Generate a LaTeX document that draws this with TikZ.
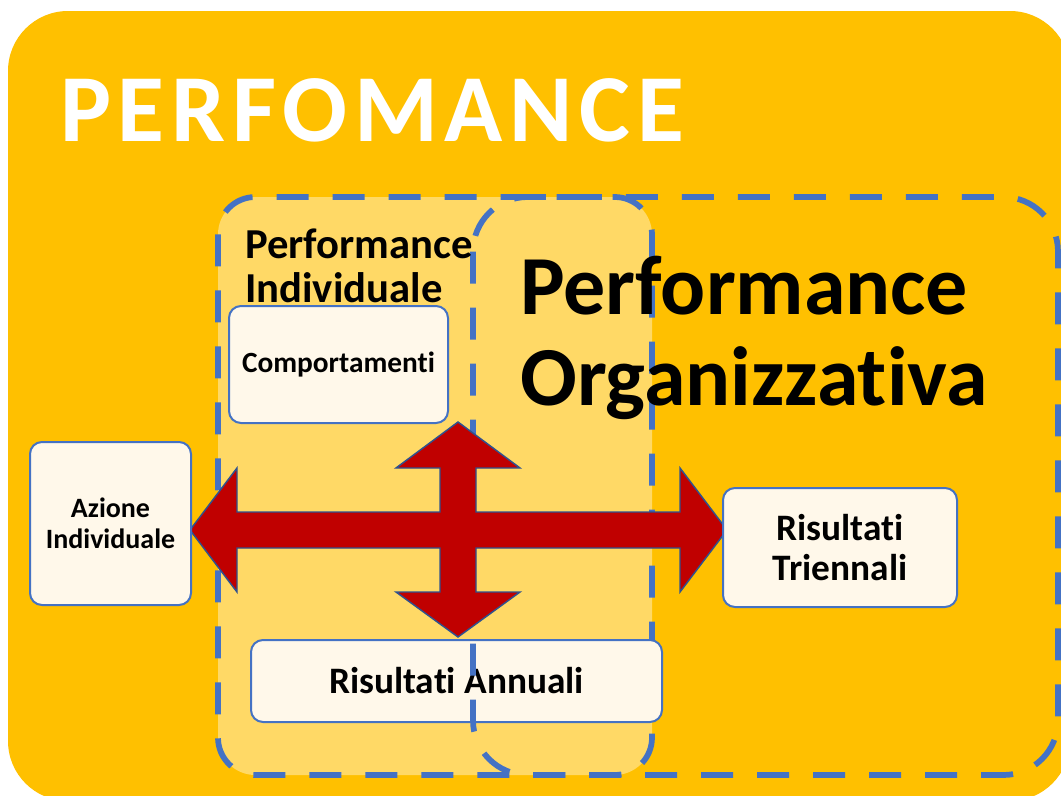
\documentclass[tikz,border=0pt]{standalone}
\usepackage{fontspec}
\setmainfont{Carlito}[Ligatures=NoCommon]
\newfontfamily\titlefont[LetterSpace=7,Ligatures=NoCommon]{Carlito}
\usetikzlibrary{positioning}

\definecolor{orangebg}{HTML}{FFC000}
\definecolor{lightyel}{HTML}{FFD966}
\definecolor{cream}{HTML}{FFF8EA}
\definecolor{dashblue}{HTML}{4472C4}
\definecolor{arrowred}{HTML}{C00000}
\definecolor{arrowedge}{HTML}{2F528F}

\begin{document}
\begin{tikzpicture}[x=0.75pt,y=-0.75pt,
	box/.style={rectangle,rounded corners=9pt,draw=dashblue,line width=1.5pt,fill=cream,align=center,inner sep=0pt},
	zone/.style={rounded corners=#1,draw=dashblue,line width=4.3pt,dash pattern=on 24pt off 18pt},
	heading/.style={inner sep=0pt,anchor=base west,align=left}]
	
	\useasboundingbox (0,0) rectangle (1061,796);
	\fill[white] (0,0) rectangle (1061,796);
	\clip (0,0) rectangle (1061,796);
	\fill[orangebg,rounded corners=45pt] (8,11) rectangle (1070,801);
	
	% individual zone, then the organisational one on top
	\filldraw[zone=28pt,fill=lightyel] (218,197) rectangle (652,775);
	\node[box,minimum width=308.25pt,minimum height=61.5pt,font={\bfseries\fontsize{28}{30}\selectfont}] (annuali) at (456.5,681) {Risultati Annuali};
	\draw[zone=41pt] (473,197) rectangle (1058,775);
	
	% four way arrow
	\draw[fill=arrowred,draw=arrowedge,line width=1.1pt,line join=miter]
	(190,530) -- (237,468) -- (237,512) -- (440,512) -- (440,468) -- (396,468)
	-- (458,422) -- (520,468) -- (476,468) -- (476,512) -- (680,512) -- (680,468)
	-- (727,530) -- (680,592) -- (680,548) -- (476,548) -- (476,592) -- (520,592)
	-- (458,637) -- (396,592) -- (440,592) -- (440,548) -- (237,548) -- (237,592) -- cycle;
	
	\node[box,minimum width=164.25pt,minimum height=87.75pt,font={\bfseries\fontsize{22}{24}\selectfont}] (comp) at (338.5,364.5) {Comportamenti};
	\node[box,minimum width=120.75pt,minimum height=122.25pt,font={\bfseries\fontsize{21}{23}\selectfont}] (azione) at (110.5,523.5) {Azione\\Individuale};
	\node[box,minimum width=175.5pt,minimum height=89.25pt,font={\bfseries\fontsize{28}{30}\selectfont}] (trien) at (840,547.5) {Risultati\\Triennali};
	
	% last line sits on the given baseline
	\node[heading,text=white,font={\titlefont\bfseries\fontsize{72}{72}\selectfont}] (title) at (60,141) {PERFOMANCE};
	\node[heading,font={\bfseries\fontsize{32}{33}\selectfont}] (indiv) at (245,302) {Performance\\Individuale};
	\node[heading,font={\bfseries\fontsize{63}{68}\selectfont}] (org) at (520,405) {Performance\\Organizzativa};
	
\end{tikzpicture}
\end{document}
